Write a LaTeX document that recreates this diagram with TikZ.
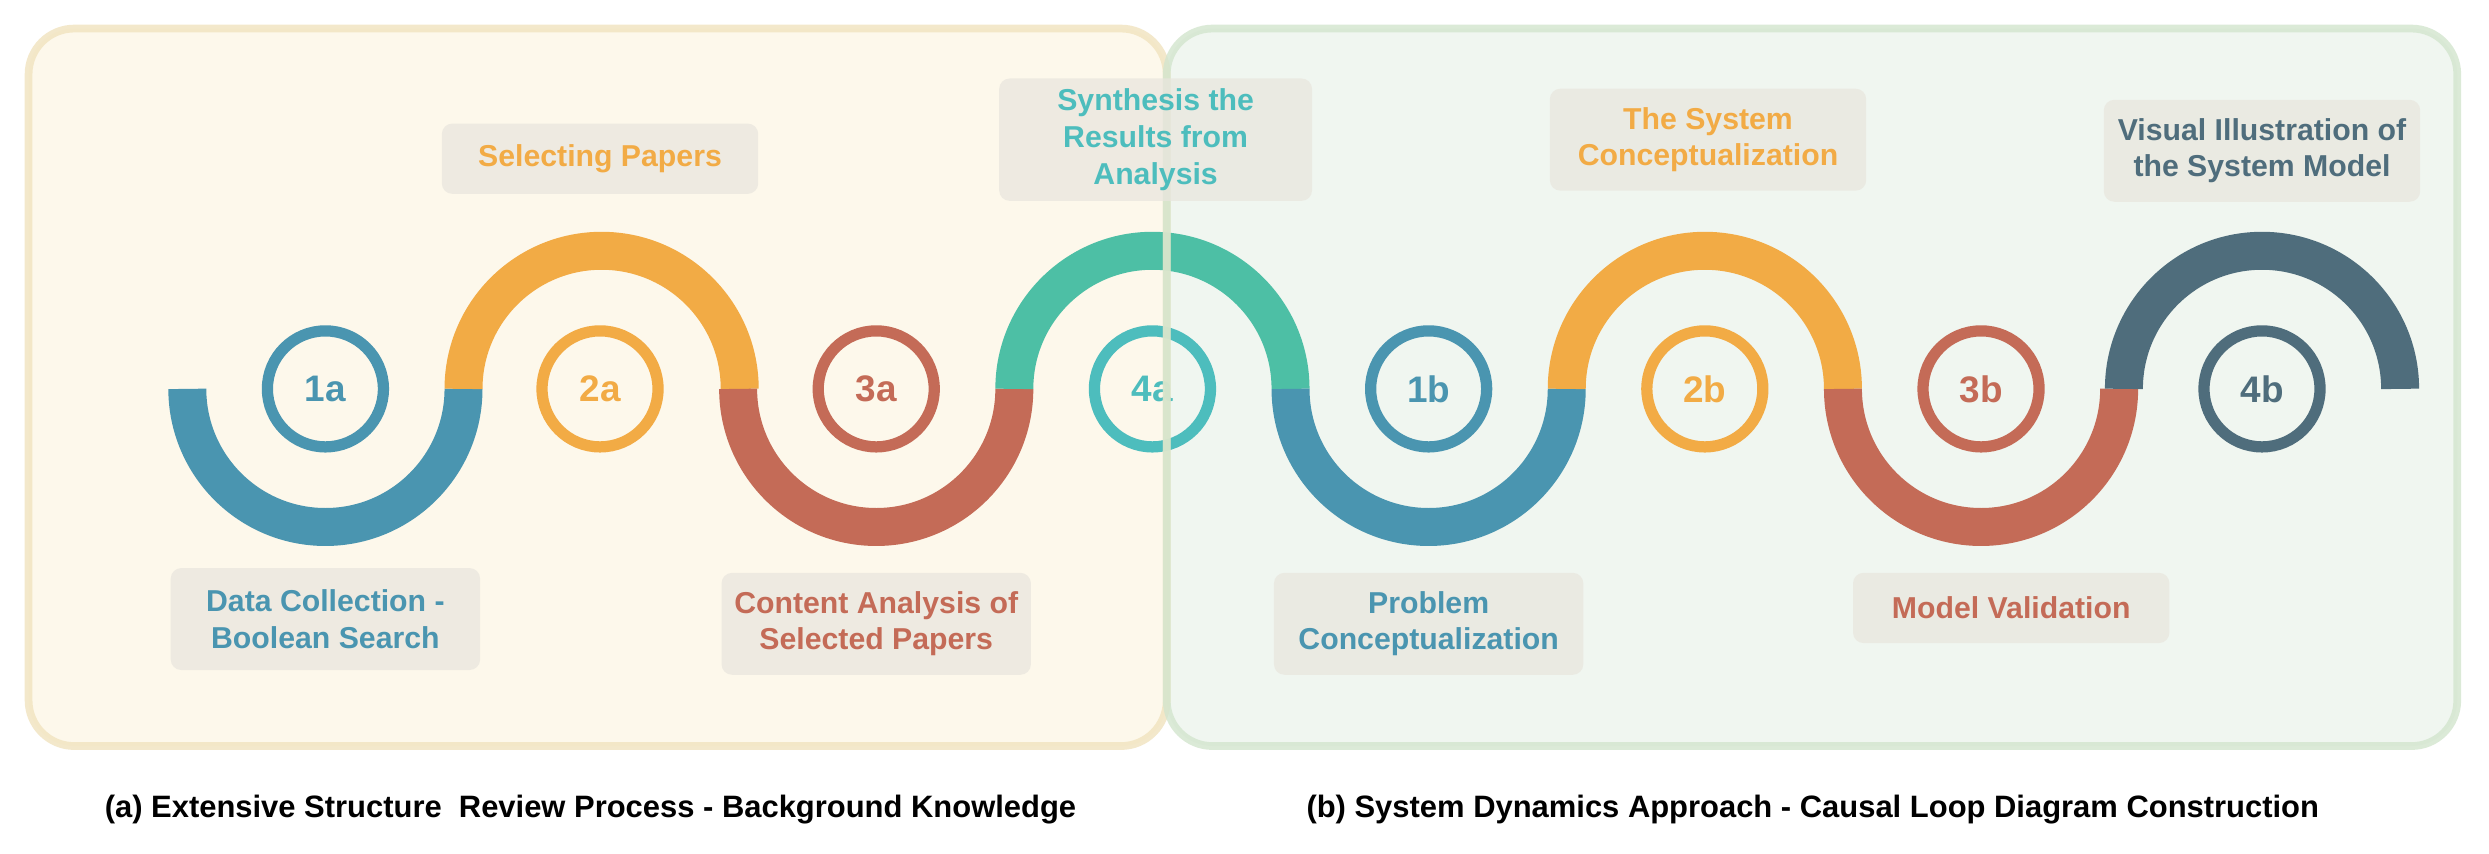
\documentclass[tikz,border=0pt]{standalone}
\usepackage{fontspec}
\setmainfont{Liberation Sans}
\begin{document}
\definecolor{cblue}{HTML}{4A95B0}
\definecolor{corange}{HTML}{F2AB45}
\definecolor{cred}{HTML}{C46B57}
\definecolor{cteal}{HTML}{4DBFA5}
\definecolor{ccyan}{HTML}{4DBDBD}
\definecolor{cslate}{HTML}{4F6D7C}
\definecolor{lfill}{HTML}{FDF8EB}
\definecolor{lbord}{HTML}{F1E3BE}
\definecolor{rfill}{HTML}{EEF5EE}
\definecolor{rbord}{HTML}{D3E5CE}
\definecolor{lab}{HTML}{E9E6DE}
\begin{tikzpicture}[x=0.015874cm,y=0.015874cm,
  wave/.style={line width=10.8pt},
  ring/.style={circle,draw,line width=3.2pt,minimum size=33pt,inner sep=0pt,font=\fontsize{10.5}{12}\selectfont\bfseries},
  lbl/.style={fill=lab,fill opacity=0.75,text opacity=1,rounded corners=3pt,align=center,font=\fontsize{8.6}{10.4}\selectfont\bfseries,inner sep=3pt},
  captn/.style={font=\fontsize{8.8}{10}\selectfont\bfseries}]
\useasboundingbox (0,0) rectangle (1568,538);
\fill[white] (0,0) rectangle (1568,538);
\fill[lfill,rounded corners=13pt] (18,68) rectangle (735,520);
\fill[rfill,rounded corners=13pt,fill opacity=0.85] (735,68) rectangle (1548,520);
% waves
\draw[wave,cblue] (118,293) arc[start angle=180,end angle=360,radius=87];
\draw[wave,corange] (292,293) arc[start angle=180,end angle=0,radius=87];
\draw[wave,cred] (465,293) arc[start angle=180,end angle=360,radius=87];
\draw[wave,cteal] (639,293) arc[start angle=180,end angle=0,radius=87];
\draw[wave,cblue] (813,293) arc[start angle=180,end angle=360,radius=87];
\draw[wave,corange] (987,293) arc[start angle=180,end angle=0,radius=87];
\draw[wave,cred] (1161,293) arc[start angle=180,end angle=360,radius=87];
\draw[wave,cslate] (1338,293) arc[start angle=180,end angle=0,radius=87];
% rings
\node[ring,draw=cblue,text=cblue] (r1a) at (205,293) {1a};
\node[ring,draw=corange,text=corange] (r2a) at (378,293) {2a};
\node[ring,draw=cred,text=cred] (r3a) at (552,293) {3a};
\node[ring,draw=ccyan,text=ccyan] (r4a) at (726,293) {4a};
\node[ring,draw=cblue,text=cblue] (r1b) at (900,293) {1b};
\node[ring,draw=corange,text=corange] (r2b) at (1074,293) {2b};
\node[ring,draw=cred,text=cred] (r3b) at (1248,293) {3b};
\node[ring,draw=cslate,text=cslate] (r4b) at (1425,293) {4b};
% borders on top
\draw[lbord,line width=2.2pt,rounded corners=13pt,opacity=0.8] (18,68) rectangle (735,520);
\draw[rbord,line width=2.2pt,rounded corners=13pt,opacity=0.8] (735,68) rectangle (1548,520);
% labels
\node[lbl,text=corange,minimum width=90pt,minimum height=20pt] (l2a) at (378,438) {Selecting Papers};
\node[lbl,text=ccyan,minimum width=89pt,minimum height=33pt] (l4a) at (728,450) {Synthesis the\\Results from\\Analysis};
\node[lbl,text=corange,minimum width=90pt,minimum height=29pt] (l2b) at (1076,450) {The System\\Conceptualization};
\node[lbl,text=cslate,minimum width=90pt,minimum height=29pt] (l4b) at (1425,443) {Visual Illustration of\\the System Model};
\node[lbl,text=cblue,minimum width=88pt,minimum height=29pt] (l1a) at (205,148) {Data Collection -\\Boolean Search};
\node[lbl,text=cred,minimum width=88pt,minimum height=29pt] (l3a) at (552,145) {Content Analysis of\\Selected Papers};
\node[lbl,text=cblue,minimum width=88pt,minimum height=29pt] (l1b) at (900,145) {Problem\\Conceptualization};
\node[lbl,text=cred,minimum width=90pt,minimum height=20pt] (l3b) at (1267,155) {Model Validation};
% captions
\node[captn] (ca) at (372,28) {(a) Extensive Structure\ \ Review Process - Background Knowledge};
\node[captn] (cb) at (1142,28) {(b) System Dynamics Approach - Causal Loop Diagram Construction};
\end{tikzpicture}
\end{document}
